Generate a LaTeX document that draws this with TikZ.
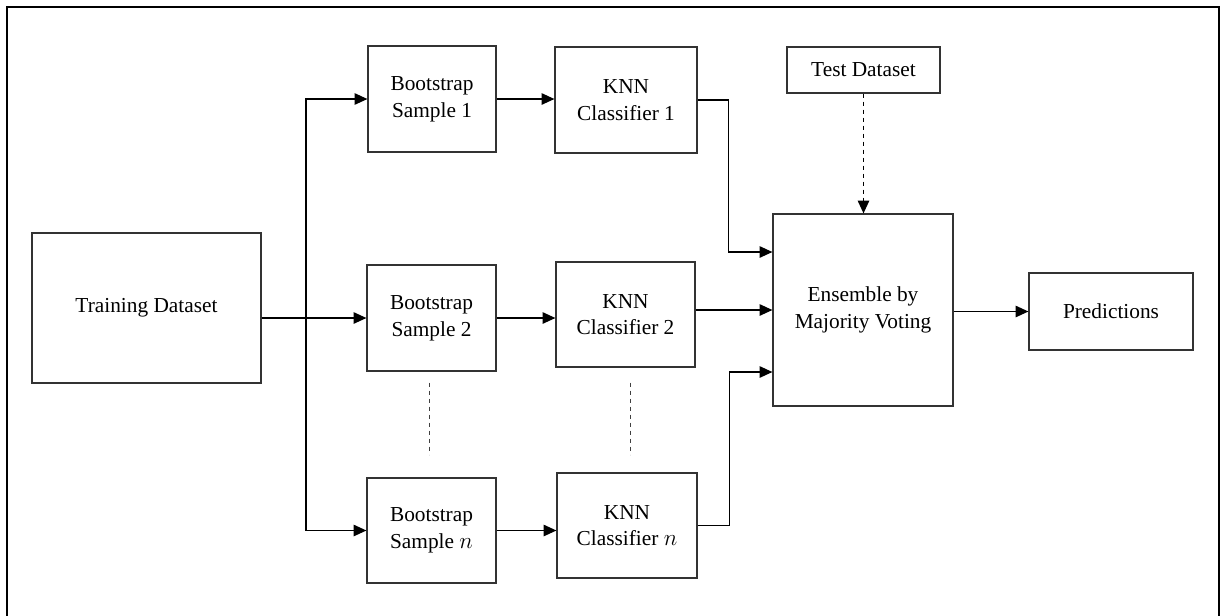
\documentclass[tikz,border=0pt]{standalone}
\usepackage{fontspec}
\setmainfont{Liberation Serif}
\usetikzlibrary{arrows.meta,calc}

\begin{document}
\begin{tikzpicture}[x=0.75pt, y=-0.75pt,
        box/.style={draw=black!80, line width=0.9pt, align=center, inner sep=0pt,
            font=\fontsize{16}{20}\selectfont},
        arr/.style={line width=1pt, -{Triangle[length=9.5pt,width=8.5pt]}},
        gap/.style={draw=black!75, line width=0.7pt, dash pattern=on 3.5pt off 2.5pt}]
        \useasboundingbox (0,0) rectangle (1220,615);

        % Outer frame
        \draw [line width=1.5pt] (6.5,640) -- (6.5,6.5) -- (1218.5,6.5) -- (1218.5,640);

        % Boxes (sizes in px)
        \node [box, minimum width=229*0.75pt, minimum height=150*0.75pt] (train) at (146.5,308) {Training Dataset};
        \node [box, minimum width=128*0.75pt, minimum height=106*0.75pt] (boot1) at (432,99) {Bootstrap\\Sample 1};
        \node [box, minimum width=129*0.75pt, minimum height=106*0.75pt] (boot2) at (431.5,318) {Bootstrap\\Sample 2};
        \node [box, minimum width=129*0.75pt, minimum height=105*0.75pt] (bootn) at (431.5,530.5) {Bootstrap\\Sample $n$};
        \node [box, minimum width=142*0.75pt, minimum height=106*0.75pt] (knn1) at (626,100) {KNN\\Classifier 1};
        \node [box, minimum width=139*0.75pt, minimum height=105*0.75pt] (knn2) at (625.5,314.5) {KNN\\Classifier 2};
        \node [box, minimum width=140*0.75pt, minimum height=105*0.75pt] (knnn) at (627,525.5) {KNN\\Classifier $n$};
        \node [box, minimum width=153*0.75pt, minimum height=46*0.75pt] (test) at (863.5,70) {Test Dataset};
        \node [box, minimum width=180*0.75pt, minimum height=192*0.75pt] (ens) at (863,310) {Ensemble by\\Majority Voting};
        \node [box, minimum width=164*0.75pt, minimum height=77*0.75pt] (pred) at (1111,311.5) {Predictions};

        % Splitting the training data
        \coordinate (split) at (306,318);
        \draw [line width=1pt] (train.east |- boot2.west) -- (split);
        \draw [arr] (split) -- (boot2.west);
        \draw [arr] (split) |- (boot1.west);
        \draw [arr] (split) |- (bootn.west);

        % Samples to classifiers
        \draw [arr] (boot1.east) -- (boot1.east -| knn1.west);
        \draw [arr] (boot2.east) -- (boot2.east -| knn2.west);
        \draw [arr] (bootn.east) -- (bootn.east -| knnn.west);

        % Omitted rows
        \draw [gap] ($(boot2.south)+(-2.5,11)$) -- ($(boot2.south)+(-2.5,83)$);
        \draw [gap] ($(knn2.south)+(4.5,15)$) -- ($(knn2.south)+(4.5,87)$);

        % Votes
        \draw [arr] (knn1.east) -- ++(31,0) |- ($(ens.west)+(0,-58)$);
        \draw [arr] (ens.west -| knn2.east) -- (ens.west);
        \draw [arr] (knnn.east) -- ++(32,0) |- ($(ens.west)+(0,62)$);
        \draw [arr, gap, draw=black, line width=1pt] (test.south) -- (test.south |- ens.north);

        % Output
        \draw [arr] (ens.east |- pred.west) -- (pred.west);
    \end{tikzpicture}
\end{document}
